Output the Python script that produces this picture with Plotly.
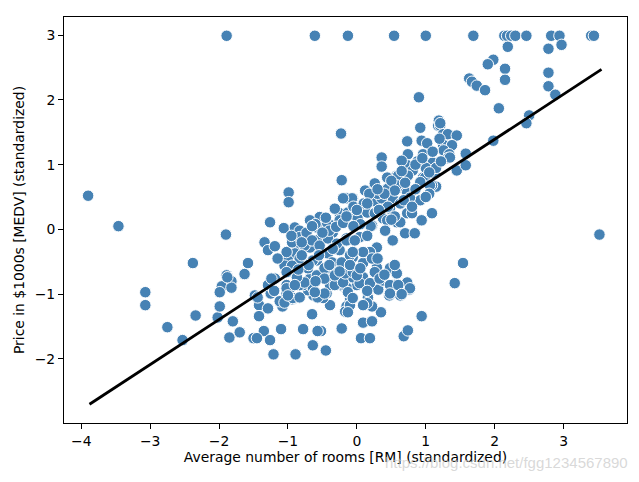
import plotly.graph_objects as go

# Standardized RM (x) and MEDV (y)
rm_std = [
    -1.89, -0.61, -0.13, 0.54, 1.00, 1.69, 2.14, 2.18, 2.24, 2.30, 2.46, 2.82, 2.94, 3.40, 3.44,
    0.90, -0.23, 0.92, 1.18, 0.73, 0.94, 1.02, 0.36, 0.74, 0.96,
    2.19, 2.78, 2.97, 1.98, 1.90, 2.15, 2.78, 1.63, 1.67, 1.74, 1.86, 2.15, 2.78, 2.88,
    2.06, 2.50, 2.46, 1.98, 1.58, 1.19, 1.21, 1.25, 1.32, 1.45, 1.25, 1.38, 1.26, 1.34,
    -3.90, -3.46, -1.90, -2.38, -1.58, -1.89, -1.63, -1.82, -1.96, -1.82, -3.07, -3.07,
    -2.75, -2.53, -2.34, -2.02, -1.99, -1.99, -1.80, -1.85, -1.70, -1.50,
    -1.42, -1.42, -1.29, -1.35, -1.45, -1.26, -1.21, -0.89, -1.10, -0.78, -0.64, -0.45,
    -0.52, -0.57, -0.22, -0.65, -0.39, 0.06, 0.19, 0.09, 0.22, 0.35, 0.68, 0.74, 0.94,
    0.76, 0.63, 0.47, 0.31, 0.16, 0.22, 0.15, -0.10, -0.15, -0.17, -0.19, 0.00, -0.44,
    -0.49, -0.63, -0.71, -0.78, -0.94, -1.08, -1.12, -1.02, -0.97, -1.25, -1.48,
    1.45, 1.58, 1.32, 1.15, 3.52, 1.54, 1.42,
    -0.99, -0.99, -0.22, -1.26, -1.06, -0.90, -1.34, -1.29, -1.19,
    0.36, 1.10, 0.73, 0.81, 0.58, 0.44, 0.26, 0.12, -0.15, -0.06, 0.45, 0.63, 0.77, 0.96,
    1.09, 0.92, 0.29, 0.15, -0.10, -0.25, -0.54, -0.36, 0.01, 0.38, 0.58, 0.73, 0.80, 0.94,
    1.09, 0.70, 0.52, 0.84, 0.29, 0.19, 0.09, -0.15, 0.04, -0.35, -0.58, -0.68, -0.83,
    -0.90, -1.00, -1.05, -0.78, -0.58, -0.42, -0.25, -0.20, -0.06, -0.35, -0.49, -0.68,
    -0.87, -0.06, 0.09, 0.29, 0.38, 0.48, 0.58, 0.73, 0.55, -0.83, -0.73, -0.51, -0.68,
    -0.44, -0.25, -0.64, -1.02, -0.83, -0.64, -0.39, -0.15, 0.04, 0.19,
    -1.19, -1.88, -1.44, -1.29, -1.24, -1.02, -1.05, -0.93, -0.83, -0.57, -0.47, -0.32,
    -0.20, -0.13, -0.10, -0.13, -0.06, -1.02, -0.94, -0.83, -0.73, -0.58, -0.25, -0.13,
    -0.07, -0.20, -0.76, -0.65, -0.54, -0.42, -0.29, -0.15, -0.83, -0.71, -0.58, -0.47,
    -0.36, -0.22, -0.10, -0.76, -0.61, -0.47, -0.32, -0.17, -0.06, -0.94, -0.87, -1.02,
    -0.90, -1.00,
    1.21, 1.35, 0.65, 0.99, 1.13, 1.06, 0.92, 0.74, 0.60, 0.58, 0.73, 0.77, 0.52, 0.36,
    0.26, 0.48, 0.63, 0.63, 0.44, 0.22, 0.41, 0.09, -0.06, 0.22, 0.26, 0.00, 0.33, 0.48,
    0.60, 0.77, 0.48, 0.65, 0.09, -0.03,
    # overlapping points in the dense band around the fit line
    -0.40, -0.30, -0.20, -0.05, 0.10, 0.20, 0.30, 0.45, 0.55, 0.65, 0.85, 1.00,
    -0.60, -0.45, -0.32, 0.05, 0.18, 0.32, 0.50, 0.68, 0.88, 1.05, 1.20, -0.80, -0.95,
    1.10, 1.15, 1.22, 1.05, 0.85, 0.95, 0.70, 0.55, 0.40, 0.30, 0.15, 0.00, -0.15, 0.50,
    0.80, 1.00,
    -0.70, -0.55, -0.40, -0.25, -0.10, 0.05, 0.15, 0.40, 0.55, -0.85, -1.15, -1.20, -0.60,
    0.30,
    -0.50, -0.65, -0.35, -0.05, 0.15, -0.80,
]
medv_std = [
    2.99, 2.99, 2.99, 2.99, 2.99, 2.99, 2.99, 2.99, 2.99, 2.99, 2.99, 2.99, 2.99, 2.99, 2.99,
    2.04, 1.48, 1.57, 1.60, 1.36, 1.37, 1.33, 1.11, 1.16, 1.16,
    2.82, 2.79, 2.85, 2.62, 2.55, 2.48, 2.42, 2.33, 2.28, 2.22, 2.15, 2.31, 2.21, 2.08,
    1.87, 1.76, 1.64, 1.37, 1.17, 1.68, 1.60, 1.47, 1.47, 1.45, 1.31, 1.30, 1.22, 1.16,
    0.52, 0.05, -0.08, -0.52, -0.52, -0.71, -0.69, -0.80, -0.88, -0.90, -0.97, -1.17,
    -1.51, -1.71, -1.33, -1.36, -1.19, -0.97, -1.42, -1.67, -1.59, -1.68,
    -1.17, -1.34, -1.22, -1.57, -1.68, -1.71, -1.93, -1.93, -1.54, -1.54, -1.79, -1.87,
    -1.57, -1.57, -1.53, -1.31, -1.17, -1.68, -1.68, -1.44, -1.42, -1.28, -1.65, -1.56, -1.34,
    -0.93, -1.02, -1.02, -0.93, -1.05, -1.19, -1.14, -1.10, -1.19, -1.27, -0.88, -0.86, -0.99,
    -1.06, -1.02, -0.94, -0.86, -1.08, -1.19, -1.11, -0.99, -0.91, -0.99, -1.02,
    0.91, 0.99, 1.10, 0.66, -0.08, -0.52, -0.83,
    0.57, 0.42, 0.76, 0.11, 0.02, 0.03, -0.20, -0.32, -0.76,
    0.97, 1.03, 0.99, 0.91, 0.83, 0.80, 0.71, 0.60, 0.48, 0.48, 0.63, 0.65, 0.56, 0.80,
    0.68, 0.45, 0.42, 0.26, 0.26, 0.25, 0.19, 0.06, 0.17, 0.17, 0.11, 0.25, 0.25, 0.14,
    0.25, -0.06, -0.17, -0.06, -0.28, -0.35, -0.52, -0.14, -0.12, -0.05, -0.17, -0.28, -0.28,
    -0.37, -0.48, -0.56, -0.52, -0.48, -0.37, -0.32, -0.51, -0.43, -0.63, -0.74, -0.76,
    -0.68, -0.74, -0.74, -0.59, -0.79, -0.60, -0.68, -0.82, -0.86, -0.02, -0.12, 0.03, 0.14,
    0.06, 0.11, -0.48, -0.86, -0.86, -0.90, -0.86, -0.90, -0.83, -0.83,
    -0.26, -0.74, -1.05, -0.86, -0.76, -0.91, -1.13, -1.06, -1.05, -1.05, -0.99, -0.86,
    -0.82, -0.97, -1.17, -1.28, -1.06, -0.35, -0.20, -0.12, -0.05, 0.03, 0.14, 0.26,
    0.48, 0.48, -0.25, -0.17, -0.25, -0.14, -0.22, -0.17, -0.45, -0.60, -0.71, -0.60,
    -0.51, -0.51, -0.40, -0.82, -0.97, -0.76, -0.71, -0.68, -0.66, -0.56, -0.74, -0.66,
    -0.86, -1.02,
    1.64, 1.11, 1.06, 0.80, 0.86, 0.68, 0.73, 0.83, 0.83, 0.68, 0.57, 0.49, 0.48, 0.48,
    0.25, 0.32, 0.40, 0.11, 0.14, 0.06, -0.02, -0.35, -0.35, -0.45, -0.66, -0.71, -0.76, -0.86,
    -0.86, -0.91, -0.99, -1.00, -1.17, -0.17,
    # overlapping points in the dense band around the fit line
    -0.02, 0.04, 0.10, 0.35, 0.40, 0.05, 0.55, 0.35, 0.20, 0.90, 0.62, 0.95,
    0.08, 0.18, 0.32, 0.08, 0.55, 0.30, 0.75, 0.45, 1.05, 0.55, 1.40, -0.20, -0.10,
    1.20, 0.95, 1.05, 0.88, 1.00, 1.10, 0.72, 0.60, 0.55, 0.62, 0.40, 0.30, 0.20, 0.15,
    0.35, 0.50,
    -0.55, -0.40, -0.55, -0.65, -0.55, -0.60, -0.95, -0.70, -0.55, -0.62, -0.45, -0.95, -0.80,
    -0.45,
    -0.05, 0.05, -0.30, 0.05, -0.10, -0.40,
]

# Fitted regression line (endpoints at min/max RM)
fit_x = [-3.88, 3.55]
fit_y = [-2.70, 2.47]

x_ticks = [-4, -3, -2, -1, 0, 1, 2, 3]
y_ticks = [-2, -1, 0, 1, 2, 3]

fig = go.Figure()
fig.add_trace(go.Scatter(
    x=rm_std, y=medv_std, mode="markers",
    marker=dict(color="steelblue", size=11.5, line=dict(color="white", width=1)),
    showlegend=False,
))
fig.add_trace(go.Scatter(
    x=fit_x, y=fit_y, mode="lines",
    line=dict(color="black", width=2.8), showlegend=False,
))

axis_common = dict(
    showgrid=False, zeroline=False, showline=True, linecolor="black", linewidth=1,
    mirror=True, ticks="outside", ticklen=5, tickwidth=1, tickcolor="black",
    automargin=False,
    tickfont=dict(family="DejaVu Sans", size=13.9, color="black"),
)
fig.update_xaxes(range=[-4.25, 3.92], tickvals=x_ticks,
                 title=dict(text="Average number of rooms [RM] (standardized)",
                            font=dict(family="DejaVu Sans", size=13.9, color="black"),
                            standoff=4),
                 **axis_common)
fig.update_yaxes(range=[-2.99, 3.28], tickvals=y_ticks,
                 title=dict(text="Price in $1000s [MEDV] (standardized)",
                            font=dict(family="DejaVu Sans", size=13.9, color="black"),
                            standoff=6),
                 **axis_common)

fig.add_annotation(
    text="https://blog.csdn.net/fgg1234567890", xref="paper", yref="paper",
    x=1.006, y=-0.098, xanchor="right", yanchor="middle", showarrow=False,
    font=dict(family="Liberation Sans", size=15, color="rgba(200,200,200,0.7)"),
)

# page body adds an 8px offset, so margins are shifted by that amount
fig.update_layout(
    width=639, height=482,
    margin=dict(l=56, r=20, t=9, b=67),
    paper_bgcolor="white", plot_bgcolor="white",
)
fig.write_html("out.html")
